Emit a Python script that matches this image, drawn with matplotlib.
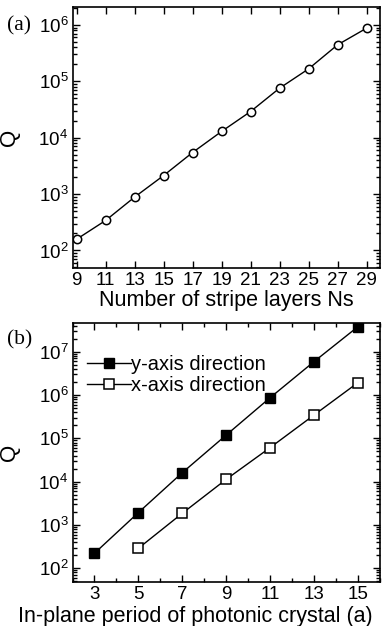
import matplotlib
matplotlib.use("Agg")
import matplotlib.pyplot as plt
from matplotlib.ticker import LogLocator, MultipleLocator, NullFormatter

plt.rcParams['font.family'] = ['Liberation Sans', 'DejaVu Sans']
plt.rcParams['mathtext.fontset'] = 'custom'
plt.rcParams['mathtext.rm'] = 'Liberation Sans'

# panel (a)
ns_layers = [9, 11, 13, 15, 17, 19, 21, 23, 25, 27, 29]
q_ns = [158, 340, 883, 2130, 5460, 12900, 29100, 75500, 166000, 443000, 875000]
decades_a = [1e2, 1e3, 1e4, 1e5, 1e6]

# panel (b)
period_y = [3, 5, 7, 9, 11, 13, 15]
q_y = [222, 1930, 16100, 119000, 867000, 5900000, 37800000]
period_x = [5, 7, 9, 11, 13, 15]
q_x = [289, 1860, 11300, 61000, 345000, 1930000]
period_ticks = [3, 5, 7, 9, 11, 13, 15]
decades_b = [1e2, 1e3, 1e4, 1e5, 1e6, 1e7]


def style_axis(ax, decades):
    ax.set_yscale('log')
    ax.tick_params(which='both', direction='in', top=True, right=True,
                   labelsize=13.5, width=1, pad=3)
    ax.tick_params(which='major', length=5)
    ax.tick_params(which='minor', length=3)
    ax.set_yticks(decades)
    ax.yaxis.set_minor_locator(LogLocator(base=10, subs=range(2, 10), numticks=12))
    ax.yaxis.set_minor_formatter(NullFormatter())
    for s in ax.spines.values():
        s.set_linewidth(1.2)
    ax.set_ylabel('Q', fontsize=16)
    # put Q at the same place as in the original (x ~ 20 px)
    ax.yaxis.set_label_coords(-0.17, 0.5)


fig = plt.figure(figsize=(3.9, 6.26), dpi=100)

ax1 = fig.add_axes([0.186, 0.572, 0.788, 0.417])
ax1.plot(ns_layers, q_ns, '-o', color='black', lw=1, ms=6,
         mfc='white', mec='black', mew=1.1)
style_axis(ax1, decades_a)
ax1.set_xlim(8.72, 29.92)
ax1.set_ylim(10 ** 1.69, 10 ** 6.32)
ax1.set_xticks(ns_layers)
ax1.set_xlabel('Number of stripe layers Ns', fontsize=15.5, labelpad=1)
fig.text(0.018, 0.952, '(a)', fontsize=15.5, family='Liberation Serif',
         va='baseline')

ax2 = fig.add_axes([0.186, 0.0708, 0.788, 0.4137])
ax2.plot(period_y, q_y, '-s', color='black', lw=1, ms=6.5,
         mfc='black', mec='black', label='y-axis direction')
ax2.plot(period_x, q_x, '-s', color='black', lw=1, ms=6.5,
         mfc='white', mec='black', mew=1.1, label='x-axis direction')
style_axis(ax2, decades_b)
ax2.set_xlim(2, 16)
ax2.set_ylim(10 ** 1.69, 10 ** 7.67)
ax2.set_xticks(period_ticks)
ax2.xaxis.set_minor_locator(MultipleLocator(1))
ax2.set_xlabel('In-plane period of photonic crystal (a)', fontsize=15.5, labelpad=1)
ax2.xaxis.set_label_coords(0.398, -0.093)
ax2.legend(loc='upper left', bbox_to_anchor=(0.0, 0.93), frameon=False,
           fontsize=14.5, handlelength=2.2, handletextpad=0.0,
           labelspacing=0.1, borderaxespad=0.3)
fig.text(0.018, 0.45, '(b)', fontsize=15.5, family='Liberation Serif',
         va='baseline')

fig.savefig('out.png', dpi=100)
